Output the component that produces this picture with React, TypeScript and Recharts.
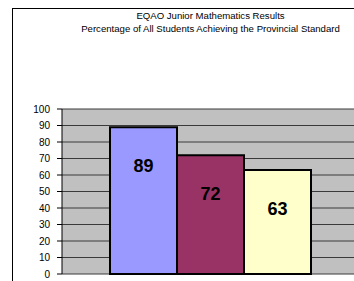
import React from "react";
import { BarChart, Bar, XAxis, YAxis, CartesianGrid, LabelList } from "recharts";

const titleLines = ["EQAO Junior Mathematics Results", "Percentage of All Students Achieving the Provincial Standard"];
const seriesNames = ["School", "Board", "Province"];
const seriesValues = [89, 72, 63];
const seriesColors = ["#9999FF", "#993366", "#FFFFCC"];
const yTicks = [0, 10, 20, 30, 40, 50, 60, 70, 80, 90, 100];

const row: Record<string, any> = { name: "" };
seriesNames.forEach((n, i) => (row[n] = seriesValues[i]));
const data = [row];

const font = "Arial, 'Liberation Sans', sans-serif";

export default function App() {
  return (
    <div style={{ position: "fixed", left: 0, top: 0, width: 354, height: 281, overflow: "hidden", background: "#fff" }}>
      <div style={{ position: "absolute", left: 12, top: 8, width: 400, height: 400, border: "1px solid #000", boxSizing: "border-box" }} />
      <div style={{ position: "absolute", left: 0, top: 9, width: 421, textAlign: "center", fontFamily: font, fontSize: 9.6, lineHeight: "13px", color: "#000" }}>
        {titleLines.map((t) => (
          <div key={t}>{t}</div>
        ))}
      </div>
      <div style={{ position: "absolute", left: 0, top: 0, width: 380, height: 281, overflow: "visible" }}>
        <BarChart width={380} height={281} data={data} margin={{ top: 109, right: 0, bottom: 7, left: 0 }} barGap={0} barCategoryGap={0}>
          <CartesianGrid vertical={false} fill="#C0C0C0" stroke="#3a3a3a" strokeWidth={1} />
          <XAxis dataKey="name" hide padding={{ left: 0, right: 21 }} />
          <YAxis
            width={62}
            domain={[0, 100]}
            ticks={yTicks}
            interval={0}
            tickSize={5}
            tickMargin={7}
            axisLine={{ stroke: "#000" }}
            tickLine={{ stroke: "#000" }}
            tick={{ fontSize: 10, fill: "#000", fontFamily: font }}
          />
          {seriesNames.map((n, i) => (
            <Bar key={n} dataKey={n} fill={seriesColors[i]} stroke="#000" strokeWidth={2} barSize={67} isAnimationActive={false}>
              <LabelList dataKey={n} position="insideTop" offset={32} style={{ fontSize: 18, fontWeight: "bold", fill: "#000", fontFamily: font }} />
            </Bar>
          ))}
        </BarChart>
      </div>
    </div>
  );
}
